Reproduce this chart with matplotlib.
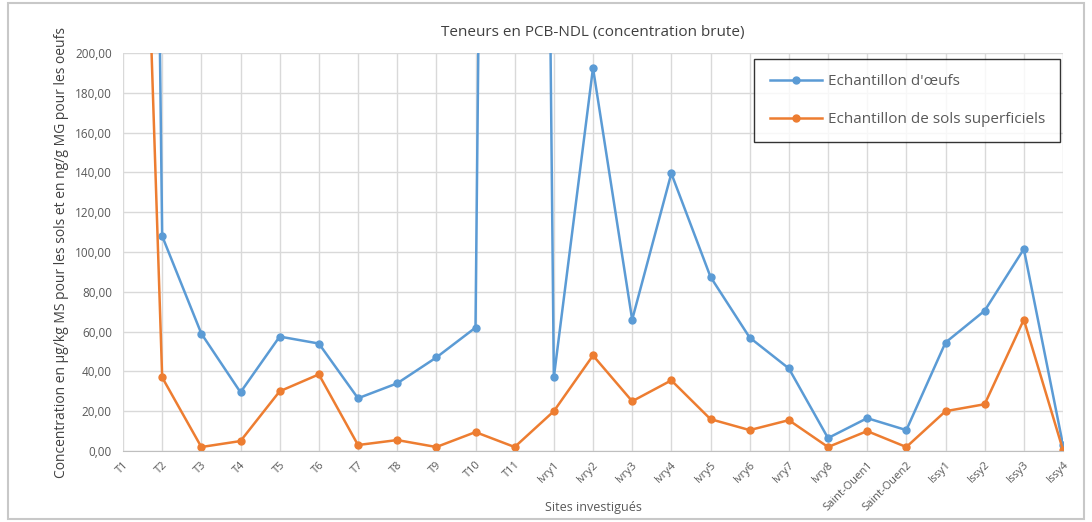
"""
Teneurs en PCB-NDL (concentration brute) - oeufs et sols superficiels
"""

import matplotlib.pyplot as plt
from matplotlib.ticker import FuncFormatter

# Sites (x axis)
sites = ['T1', 'T2', 'T3', 'T4', 'T5', 'T6', 'T7', 'T8', 'T9', 'T10', 'T11',
         'Ivry1', 'Ivry2', 'Ivry3', 'Ivry4', 'Ivry5', 'Ivry6', 'Ivry7', 'Ivry8',
         'Saint-Ouen1', 'Saint-Ouen2', 'Issy1', 'Issy2', 'Issy3', 'Issy4']

# Egg samples (ng/g MG) - T1 and T11 go far above the axis
oeufs = [1750, 108, 59, 29.5, 57.5, 54, 26.5, 34, 47, 62, 2000,
         37, 192.5, 66, 139.5, 87.5, 57, 41.5, 6.5,
         16.5, 10.5, 54.5, 70.5, 101.5, 3]

# Surface soil samples (ug/kg MS) - T1 above the axis
sols = [640, 37, 2, 5, 30, 38.5, 3, 5.5, 2, 9.5, 2,
        20, 48, 25, 35.5, 16, 10.5, 15.5, 2,
        10, 2, 20, 23.5, 66, 0.5]

blue = '#5B9BD5'
orange = '#ED7D31'
grey_text = '#595959'

plt.rcParams['font.family'] = ['Open Sans', 'DejaVu Sans']

fig = plt.figure(figsize=(10.92, 5.22), dpi=100)
ax = fig.add_axes([123 / 1092, 1 - 451 / 522, 940 / 1092, 398 / 522])

x = list(range(len(sites)))
ax.plot(x, oeufs, color=blue, marker='o', markersize=5, linewidth=1.8,
        label="Echantillon d'œufs")
ax.plot(x, sols, color=orange, marker='o', markersize=5, linewidth=1.8,
        label='Echantillon de sols superficiels')

ax.set_xlim(0, len(sites) - 1)
ax.set_ylim(0, 200)
ax.set_yticks(range(0, 201, 20))
ax.yaxis.set_major_formatter(FuncFormatter(lambda v, p: f'{v:.2f}'.replace('.', ',')))
ax.set_xticks(x)
ax.set_xticklabels(sites, rotation=45, ha='right', rotation_mode='anchor')

ax.grid(True, color='#D9D9D9', linewidth=1)
ax.set_axisbelow(True)
for side in ['top', 'right', 'left']:
    ax.spines[side].set_visible(False)
ax.spines['bottom'].set_color('#BFBFBF')
ax.tick_params(length=0, colors=grey_text, labelsize=8)
ax.tick_params(axis='x', pad=6)
ax.tick_params(axis='y', labelsize=8.5, pad=8)

ax.set_title('Teneurs en PCB-NDL (concentration brute)', color='#404040',
             fontsize=11, pad=12)
ax.set_xlabel('Sites investigués', color=grey_text, fontsize=9)
ax.xaxis.set_label_coords(0.5, -0.125)
ax.set_ylabel('Concentration en µg/kg MS pour les sols et en ng/g MG pour les oeufs',
              color='#404040', fontsize=10)
ax.yaxis.set_label_coords(-0.057, 0.5)

leg = ax.legend(loc='upper right', bbox_to_anchor=(0.997, 0.985), frameon=True,
                fancybox=False, edgecolor='black', fontsize=11,
                labelspacing=1.5, borderpad=1.0, handlelength=3.4,
                handletextpad=0.4, borderaxespad=0)
leg.get_frame().set_linewidth(1.0)
for t in leg.get_texts():
    t.set_color(grey_text)

# outer chart border
fig.patches.append(plt.Rectangle((8 / 1092, 0.005), 1 - 16 / 1092, 0.99,
                                 transform=fig.transFigure, fill=False,
                                 edgecolor='#C8C8C8', linewidth=1.5))

plt.savefig('out.png', dpi=100)
